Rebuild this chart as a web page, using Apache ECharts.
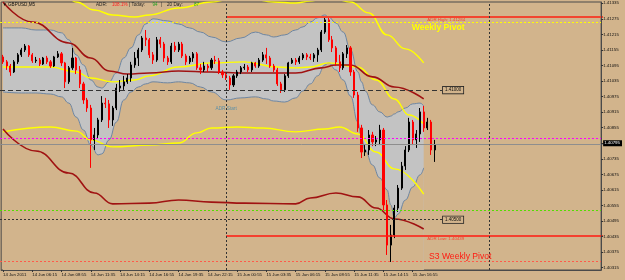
<!DOCTYPE html>
<html><head><meta charset="utf-8">
<script src="https://cdn.jsdelivr.net/npm/echarts@6/dist/echarts.min.js"></script>
<style>html,body{margin:0;padding:0;background:#d2b48c}#c{width:625px;height:280px}</style>
</head><body><div id="c"></div>
<script>
// ---------- data ----------
const slotCount = 164; // 20-minute slots across the visible window
const xTickLabels = ['14 Jun 2011','14 Jun 06:15','14 Jun 08:55','14 Jun 11:35','14 Jun 14:15','14 Jun 16:55','14 Jun 19:35','14 Jun 22:15','15 Jun 00:55','15 Jun 03:35','15 Jun 06:15','15 Jun 08:55','15 Jun 11:35','15 Jun 14:15','15 Jun 16:55'];
const xTickStep = 8;
const yTickValues = [1.41335,1.41275,1.41215,1.41155,1.41095,1.41035,1.40975,1.40915,1.40855,1.40795,1.40735,1.40675,1.40615,1.40555,1.40495,1.40435,1.40375,1.40315];
const currentPrice = 1.40795;

const opens = [1.41128,1.41109,1.41093,1.41070,1.41109,1.41136,1.41155,1.41170,1.41136,1.41113,1.41116,1.41101,1.41124,1.41109,1.41093,1.41128,1.41140,1.41105,1.41032,1.41086,1.41124,1.41078,1.41024,1.40962,1.40931,1.40808,1.40827,1.40885,1.40950,1.40947,1.40885,1.40931,1.41008,1.41016,1.41032,1.41047,1.41097,1.41124,1.41155,1.41201,1.41194,1.41136,1.41116,1.41194,1.41178,1.41124,1.41109,1.41170,1.41155,1.41178,1.41132,1.41109,1.41124,1.41140,1.41086,1.41078,1.41093,1.41086,1.41116,1.41113,1.41070,1.41059,1.41047,1.41020,1.41055,1.41070,1.41086,1.41089,1.41078,1.41105,1.41093,1.41116,1.41136,1.41124,1.41093,1.41078,1.41024,1.41001,1.41055,1.41105,1.41116,1.41109,1.41124,1.41136,1.41128,1.41124,1.41136,1.41155,1.41224,1.41271,1.41194,1.41163,1.41109,1.41086,1.41140,1.41163,1.41070,1.40981,1.40854,1.40761,1.40769,1.40827,1.40800,1.40808,1.40846,1.40557,1.40402,1.40441,1.40545,1.40622,1.40707,1.40769,1.40877,1.40808,1.40831,1.40916,1.40854,1.40877,1.40769];
const closes = [1.41109,1.41093,1.41070,1.41109,1.41136,1.41155,1.41170,1.41136,1.41113,1.41116,1.41101,1.41124,1.41109,1.41093,1.41128,1.41140,1.41105,1.41032,1.41086,1.41124,1.41078,1.41024,1.40962,1.40931,1.40808,1.40827,1.40885,1.40950,1.40947,1.40885,1.40931,1.41008,1.41016,1.41032,1.41047,1.41097,1.41124,1.41155,1.41201,1.41194,1.41136,1.41116,1.41194,1.41178,1.41124,1.41109,1.41170,1.41155,1.41178,1.41132,1.41109,1.41124,1.41140,1.41086,1.41078,1.41093,1.41086,1.41116,1.41113,1.41070,1.41059,1.41047,1.41020,1.41055,1.41070,1.41086,1.41089,1.41078,1.41105,1.41093,1.41116,1.41136,1.41124,1.41093,1.41078,1.41024,1.41001,1.41055,1.41105,1.41116,1.41109,1.41124,1.41136,1.41128,1.41124,1.41136,1.41155,1.41224,1.41271,1.41194,1.41163,1.41109,1.41086,1.41140,1.41163,1.41070,1.40981,1.40854,1.40761,1.40769,1.40827,1.40800,1.40808,1.40846,1.40557,1.40402,1.40441,1.40545,1.40622,1.40707,1.40769,1.40877,1.40808,1.40831,1.40916,1.40854,1.40877,1.40769,1.40788];
const highs = [1.41136,1.41116,1.41101,1.41116,1.41143,1.41163,1.41178,1.41174,1.41143,1.41128,1.41124,1.41128,1.41132,1.41116,1.41132,1.41151,1.41147,1.41109,1.41093,1.41163,1.41128,1.41093,1.41032,1.40970,1.40943,1.40854,1.40893,1.40977,1.40970,1.40962,1.40939,1.41024,1.41039,1.41055,1.41062,1.41109,1.41147,1.41163,1.41209,1.41232,1.41201,1.41147,1.41205,1.41205,1.41186,1.41132,1.41182,1.41186,1.41186,1.41186,1.41140,1.41132,1.41147,1.41147,1.41101,1.41109,1.41101,1.41124,1.41132,1.41124,1.41078,1.41066,1.41055,1.41062,1.41078,1.41093,1.41101,1.41097,1.41109,1.41109,1.41124,1.41147,1.41163,1.41132,1.41101,1.41086,1.41032,1.41062,1.41109,1.41124,1.41124,1.41132,1.41143,1.41143,1.41140,1.41143,1.41163,1.41232,1.41279,1.41286,1.41209,1.41170,1.41136,1.41147,1.41174,1.41170,1.41078,1.40993,1.40866,1.40788,1.40846,1.40839,1.40823,1.40866,1.40854,1.40576,1.40480,1.40557,1.40634,1.40723,1.40784,1.40893,1.40885,1.40846,1.40931,1.40939,1.40893,1.40885,1.40808];
const lows = [1.41101,1.41078,1.41055,1.41066,1.41101,1.41128,1.41147,1.41128,1.41105,1.41105,1.41093,1.41097,1.41101,1.41086,1.41089,1.41124,1.41093,1.41008,1.41024,1.41078,1.41062,1.41008,1.40947,1.40916,1.40700,1.40769,1.40815,1.40877,1.40931,1.40854,1.40862,1.40923,1.40993,1.41001,1.41024,1.41032,1.41086,1.41093,1.41147,1.41170,1.41124,1.41101,1.41109,1.41163,1.41109,1.41097,1.41101,1.41147,1.41147,1.41124,1.41097,1.41101,1.41109,1.41078,1.41062,1.41070,1.41070,1.41078,1.41101,1.41062,1.41047,1.41039,1.41001,1.41012,1.41047,1.41062,1.41078,1.41070,1.41070,1.41086,1.41086,1.41109,1.41101,1.41086,1.41070,1.41016,1.40989,1.40993,1.41047,1.41101,1.41097,1.41101,1.41116,1.41116,1.41116,1.41109,1.41109,1.41147,1.41217,1.41186,1.41147,1.41093,1.41070,1.41078,1.41124,1.41055,1.40970,1.40839,1.40738,1.40746,1.40750,1.40784,1.40784,1.40788,1.40537,1.40364,1.40337,1.40429,1.40530,1.40615,1.40692,1.40761,1.40788,1.40777,1.40800,1.40839,1.40846,1.40750,1.40723];

// Bollinger-style band (slot index, upper, lower)
const bandSlots = [0,5,9,13,16,18,20,22,24,26,27,29,31,33,35,37,39,41,45,48,51,54,57,61,65,69,72,74,77,80,82,84,86,88,89,91,93,95,97,98,99,101,103,105,106,107,108,110,112,114,115];
const bandUpper = [1.41240,1.41240,1.41232,1.41232,1.41221,1.41194,1.41136,1.41097,1.41039,1.41012,1.41008,1.41032,1.41066,1.41124,1.41163,1.41213,1.41255,1.41275,1.41267,1.41255,1.41240,1.41224,1.41205,1.41186,1.41201,1.41224,1.41213,1.41205,1.41213,1.41232,1.41244,1.41263,1.41279,1.41290,1.41282,1.41259,1.41224,1.41155,1.41070,1.41032,1.40997,1.40943,1.40916,1.40896,1.40900,1.40908,1.40916,1.40931,1.40947,1.40950,1.40939];
const bandLower = [1.40993,1.40989,1.40989,1.40985,1.40974,1.40950,1.40896,1.40846,1.40788,1.40750,1.40754,1.40808,1.40877,1.40962,1.40993,1.41012,1.41024,1.41032,1.41028,1.41032,1.41028,1.41012,1.40993,1.40962,1.40970,1.40974,1.40966,1.40958,1.40954,1.40970,1.40997,1.41024,1.41055,1.41097,1.41105,1.41078,1.41039,1.40977,1.40877,1.40815,1.40769,1.40711,1.40661,1.40615,1.40557,1.40507,1.40522,1.40576,1.40626,1.40673,1.40700];

// moving averages / envelopes
const maroonFastSlots = [0,8,18,24,29,34,40,48,57,66,80,87,91,95,101,107,115];
const maroonFast = [1.41340,1.41263,1.41182,1.41124,1.41074,1.41062,1.41066,1.41074,1.41070,1.41066,1.41066,1.41086,1.41097,1.41097,1.41051,1.41012,1.40966];
const maroonSlowSlots = [0,9,18,25,30,40,48,57,66,80,84,91,97,102,107,115];
const maroonSlow = [1.40850,1.40765,1.40680,1.40603,1.40561,1.40564,1.40576,1.40568,1.40564,1.40561,1.40584,1.40603,1.40588,1.40545,1.40503,1.40464];
const yellowUpperSlots = [18,20,25,30,36,40,48,57,65,74,80,84,89,95,100,105,110,115];
const yellowUpper = [1.41360,1.41340,1.41309,1.41290,1.41282,1.41290,1.41317,1.41340,1.41363,1.41340,1.41336,1.41344,1.41360,1.41340,1.41298,1.41213,1.41159,1.41105];
const yellowMidSlots = [0,9,13,20,24,30,36,40,48,57,66,75,80,84,89,97,102,107,111,115];
const yellowMid = [1.41089,1.41089,1.41089,1.41070,1.41047,1.41032,1.41039,1.41055,1.41089,1.41105,1.41109,1.41089,1.41086,1.41089,1.41105,1.41089,1.41039,1.40966,1.40904,1.40869];
const yellowLowSlots = [0,13,20,24,30,40,48,53,57,64,71,80,88,92,97,102,107,115];
const yellowLow = [1.40839,1.40858,1.40842,1.40808,1.40781,1.40788,1.40796,1.40835,1.40854,1.40858,1.40854,1.40839,1.40850,1.40858,1.40831,1.40761,1.40696,1.40599];

// levels
const weeklyPivot = 1.41262;
const s3Pivot = 1.40340;
const magentaLevel = 1.40815;
const bidLevel = 1.40792;
const greenLevel = 1.40538;
const adrHigh = 1.41284;
const adrLow = 1.40439;
const roundLevels = [1.41000, 1.40500];
const roundEndSlot = 120;
const daySeparatorSlots = [61, 133];
const adrStartSlot = 61;

// ---------- build ----------
const BG = '#d2b48c';
const cats = Array.from({length: slotCount}, (_, i) => String(i));
const showTick = (i) => i % xTickStep === 0 && i / xTickStep < xTickLabels.length;
const pairs = (s, v) => s.map((x, k) => [x, v[k]]);
const candles = opens.map((o, i) => [o, closes[i], lows[i], highs[i]]);
const lineS = (data, color, width, z) => ({type:'line', data, smooth:0.45, smoothMonotone:'x', symbol:'none', silent:true, z, lineStyle:{color, width}});
const fullLine = (v, color, type) => [{coord:[0, v], x:0, lineStyle:{color, type, width:1}}, {coord:[slotCount - 1, v], x:603}];

const option = {
  animation: false,
  backgroundColor: BG,
  grid: {left:0, right:22, top:2, bottom:10, show:true, backgroundColor:BG, borderColor:'#4a4a4a', borderWidth:1},
  xAxis: {
    type:'category', data:cats, boundaryGap:true, z:10,
    axisLine:{show:true, lineStyle:{color:'#4a4a4a', width:1}},
    axisTick:{show:true, alignWithLabel:true, length:2, interval:showTick, lineStyle:{color:'#333'}},
    axisLabel:{interval:showTick, formatter:(v, i) => xTickLabels[i / xTickStep] || '', align:'left', fontSize:4.3, color:'#111', margin:3, fontFamily:'Liberation Sans'},
    splitLine:{show:false}
  },
  yAxis: {
    type:'value', position:'right', min:1.40306, max:1.41340, z:10,
    splitLine:{show:false},
    axisLine:{show:true, lineStyle:{color:'#4a4a4a', width:1}},
    axisTick:{show:true, length:2, customValues:yTickValues, lineStyle:{color:'#333'}},
    axisLabel:{customValues:yTickValues, fontSize:4.4, color:'#111', margin:2, fontFamily:'Liberation Sans',
      formatter:(v) => Math.abs(v - currentPrice) < 1e-7 ? '{cur|' + v.toFixed(5) + '}' : v.toFixed(5),
      rich:{cur:{backgroundColor:'#000', color:'#fff', fontSize:4.4, fontFamily:'Liberation Sans', padding:[1,2,1,1]}}}
  },
  series: [
    {type:'line', data:pairs(bandSlots, bandUpper), smooth:0.45, smoothMonotone:'x', symbol:'none', silent:true, z:1,
     lineStyle:{color:'#6d86a3', width:1}, areaStyle:{color:'#c3c3c3', opacity:1, origin:'start'}},
    {type:'line', data:pairs(bandSlots, bandLower), smooth:0.45, smoothMonotone:'x', symbol:'none', silent:true, z:1,
     lineStyle:{color:'#6d86a3', width:1}, areaStyle:{color:BG, opacity:1, origin:'start'}},
    {type:'line', data:[[0, bidLevel]], symbol:'none', showSymbol:false, silent:true, z:2, lineStyle:{width:0},
     markLine:{silent:true, symbol:['none','none'], animation:false, label:{show:false},
       data:[
         fullLine(weeklyPivot, '#ffff00', [2,2]),
         fullLine(magentaLevel, '#ff00ff', [2,2]),
         fullLine(bidLevel, '#8e8e8e', 'solid'),
         fullLine(greenLevel, '#55dd00', [2,2]),
         fullLine(s3Pivot, '#ff5a4a', [2,2]),
         [{coord:[adrStartSlot, adrHigh], lineStyle:{color:'#f2452f', type:'solid', width:2}}, {coord:[slotCount - 1, adrHigh], x:603}],
         [{coord:[adrStartSlot, adrLow], lineStyle:{color:'#ff1a10', type:'solid', width:1.6}}, {coord:[slotCount - 1, adrLow], x:603}],
         ...roundLevels.map((v, k) => [
           {coord:[0, v], x:0, lineStyle:{color:'#333', type:k === 0 ? [5,3] : [2,2], width:1},
            label:{show:true, position:'end', distance:1, formatter:v.toFixed(5), fontSize:4.5, color:'#111', fontFamily:'Liberation Sans',
                   backgroundColor:BG, borderColor:'#222', borderWidth:0.8, padding:[1,2,0.5,2]}},
           {coord:[roundEndSlot, v]}]),
         ...daySeparatorSlots.map(s => ({xAxis:String(s), lineStyle:{color:'#333', type:[2,2], width:1}}))
       ]}},
    lineS(pairs(yellowUpperSlots, yellowUpper), '#ffff00', 1.4, 3),
    lineS(pairs(yellowMidSlots, yellowMid), '#ffff00', 1.4, 3),
    lineS(pairs(yellowLowSlots, yellowLow), '#ffff00', 1.4, 3),
    lineS(pairs(maroonFastSlots, maroonFast), '#a01212', 1.6, 3),
    lineS(pairs(maroonSlowSlots, maroonSlow), '#a01212', 1.6, 3),
    {type:'candlestick', data:candles, barWidth:1.6, silent:true, z:4,
     itemStyle:{color:'#000', color0:'#ff0000', borderColor:'#000', borderColor0:'#ff0000', borderWidth:1}}
  ]
};

const chart = echarts.init(document.getElementById('c'));
chart.setOption(option);

const P = (slot, v) => chart.convertToPixel({gridIndex:0}, [slot, v]);
const txt = (x, y, text, fill, size, extra) => Object.assign({type:'text', x, y, z:100, silent:true,
  style:Object.assign({text, fill, fontSize:size, fontFamily:'Liberation Sans', align:'left', verticalAlign:'middle'}, extra || {})});
const annotations = [];
let p;
p = P(116, adrHigh); annotations.push(txt(p[0], p[1] + 1, 'ADR High: ' + adrHigh.toFixed(5), '#f2452f', 4.4, {verticalAlign:'top'}));
p = P(112, weeklyPivot); annotations.push(txt(p[0] - 1, p[1] + 1, 'Weekly Pivot', '#ffff00', 8.6, {verticalAlign:'top', fontWeight:'bold'}));
p = P(116, adrLow); annotations.push(txt(p[0], p[1] + 1.5, 'ADR Low: ' + adrLow.toFixed(5), '#f2452f', 4.4, {verticalAlign:'top'}));
p = P(117, s3Pivot); annotations.push(txt(p[0] - 2, p[1] - 0.5, 'S3 Weekly Pivot', '#ff1a10', 8.6, {verticalAlign:'bottom'}));
p = P(adrStartSlot, bandLower[bandSlots.indexOf(adrStartSlot)]); annotations.push(txt(p[0], p[1] + 9, 'ADR Start', '#5b8fa8', 4.7, {align:'center'}));
// header
annotations.push(txt(2.5, 4.5, '\u25BC', '#111', 4.5));
annotations.push(txt(8, 4.5, 'GBPUSD,M5', '#111', 4.6));
annotations.push(txt(96, 4.5, 'ADR:', '#222', 4.6));
annotations.push(txt(112, 4.5, '108.1%', '#ff2020', 4.6));
annotations.push(txt(129, 4.5, '| Today:', '#222', 4.6));
annotations.push(txt(152.5, 4.5, '94', '#1f9f1f', 4.6));
annotations.push(txt(161, 4.5, '|', '#222', 4.6));
annotations.push(txt(167, 4.5, '20 Day:', '#222', 4.6));
annotations.push(txt(194, 4.5, '87', '#1f9f1f', 4.6));
chart.setOption({graphic: annotations});
</script></body></html>
